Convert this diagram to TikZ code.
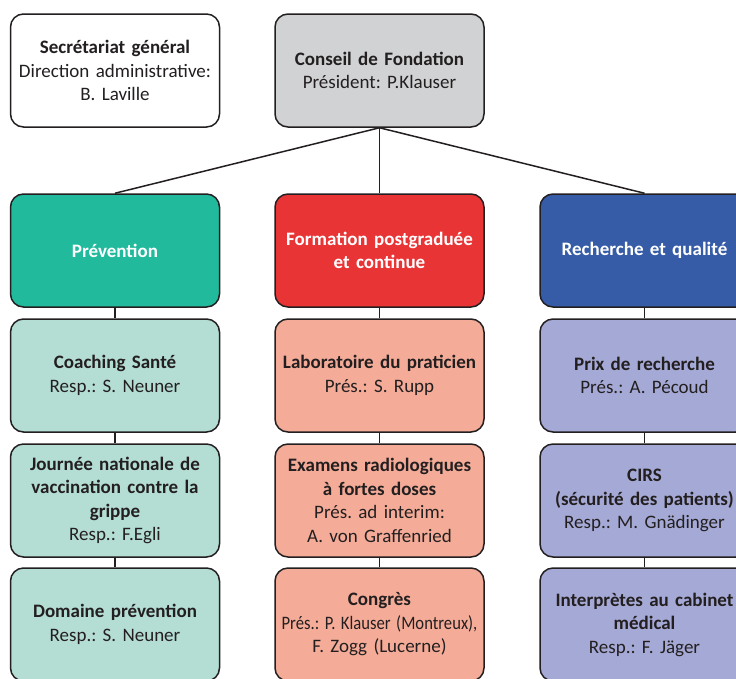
\documentclass[tikz,border=0pt]{standalone}
\usepackage{fontspec}
\setmainfont{Carlito}
\definecolor{ink}{HTML}{231F20}
\definecolor{greyfill}{HTML}{D1D2D4}
\definecolor{tealdark}{HTML}{22BA9D}
\definecolor{teallight}{HTML}{B4DDD4}
\definecolor{reddark}{HTML}{E93436}
\definecolor{redlight}{HTML}{F4AC98}
\definecolor{bluedark}{HTML}{365CA8}
\definecolor{bluelight}{HTML}{A5A9D5}
\tikzset{
  box/.style={draw=ink, line width=1.5pt, rounded corners=13pt, minimum width=209pt,
    minimum height=113pt, text width=207pt, align=center, inner sep=0pt,
    font=\fontsize{19}{23.5}\selectfont\frenchspacing, text=ink},
  hdr/.style={box, text=white, font=\fontsize{19}{23.5}\selectfont\bfseries},
  link/.style={draw=ink, line width=1.5pt}
}
\begin{document}
\begin{tikzpicture}[x=1pt, y=-1pt]
\useasboundingbox (0,0) rectangle (736,678);
\clip (0,0) rectangle (736,678);
\node[box, fill=white] (sec) at (115,70.5) {\textbf{Secrétariat général}\\Direction administrative:\\B. Laville};
\node[box, fill=greyfill] (cf) at (379.5,70.5) {\textbf{Conseil de Fondation}\\Président: P.Klauser\\[10pt]};
\node[hdr, fill=tealdark] (prev) at (115,250.5) {Prévention};
\node[hdr, fill=reddark] (form) at (379.5,250.5) {Formation postgraduée\\et continue};
\node[hdr, fill=bluedark] (rech) at (644.5,250.5) {Recherche et qualité};
\node[box, fill=teallight] (coach) at (115,375.5) {\textbf{Coaching Santé}\\Resp.: S. Neuner};
\node[box, fill=teallight] (journ) at (115,500.5) {\textbf{Journée nationale de}\\\textbf{vaccination contre la}\\\textbf{grippe}\\Resp.: F.Egli};
\node[box, fill=teallight] (dom) at (115,624.5) {\textbf{Domaine prévention}\\Resp.: S. Neuner};
\node[box, fill=redlight] (labo) at (379.5,375.5) {\textbf{Laboratoire du praticien}\\Prés.: S. Rupp};
\node[box, fill=redlight] (exam) at (379.5,500.5) {\textbf{Examens radiologiques}\\\textbf{à fortes doses}\\Prés. ad interim:\\A. von Graffenried};
\node[box, fill=redlight] (cong) at (379.5,624.5) {\textbf{Congrès}\\\scalebox{0.875}[1]{Prés.: P. Klauser (Montreux),}\\F. Zogg (Lucerne)};
\node[box, fill=bluelight] (prix) at (644.5,375.5) {\textbf{Prix de recherche}\\Prés.: A. Pécoud};
\node[box, fill=bluelight] (cirs) at (644.5,500.5) {\textbf{CIRS}\\\textbf{(sécurité des patients)}\\Resp.: M. Gnädinger};
\node[box, fill=bluelight] (interp) at (644.5,624.5) {\textbf{Interprètes au cabinet}\\\textbf{médical}\\Resp.: F. Jäger};
\draw[link] (cf.south) -- (prev.north);
\draw[link] (cf.south) -- (form.north);
\draw[link] (cf.south) -- (rech.north);
\draw[link] (prev) -- (coach);
\draw[link] (coach) -- (journ);
\draw[link] (journ) -- (dom);
\draw[link] (form) -- (labo);
\draw[link] (labo) -- (exam);
\draw[link] (exam) -- (cong);
\draw[link] (rech) -- (prix);
\draw[link] (prix) -- (cirs);
\draw[link] (cirs) -- (interp);
\end{tikzpicture}
\end{document}
